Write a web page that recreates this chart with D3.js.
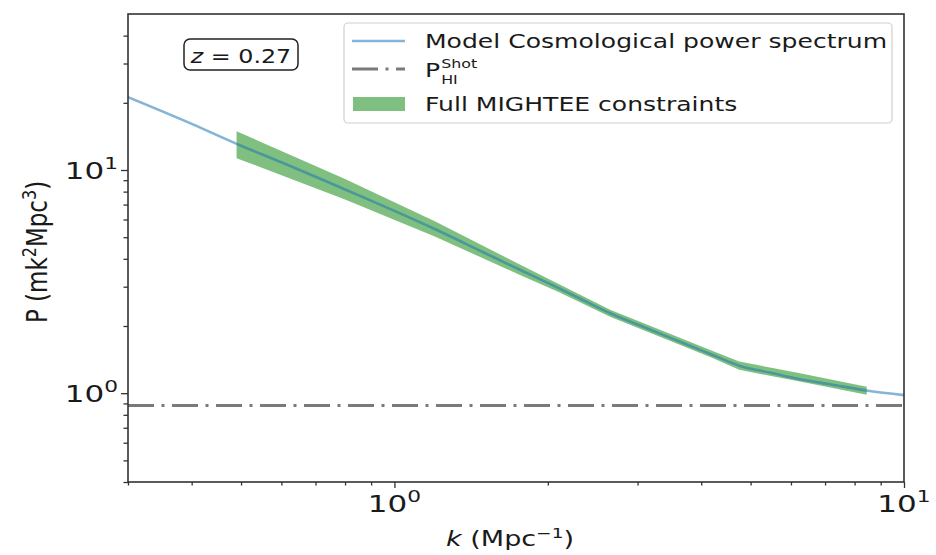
<!DOCTYPE html>
<html><head><meta charset="utf-8">
<script src="https://cdn.jsdelivr.net/npm/d3@7"></script>
<style>
body{margin:0;background:#fff}
text{font-family:"DejaVu Sans",sans-serif;fill:#1a1a1a}
</style>
</head><body>
<svg id="c" width="936" height="555"></svg>
<script>
// ---- data ----
const modelK = [0.3, 0.4, 0.5, 0.6, 0.7, 0.8, 1.0, 1.2, 1.5, 1.75, 2.0, 2.3, 2.65, 3.0, 3.3, 3.8, 4.2, 4.75, 5.5, 6.25, 7.2, 8.5, 10];
const modelP = [21.2, 16.1, 12.85, 10.83, 9.33, 8.18, 6.56, 5.44, 4.26, 3.60, 3.12, 2.67, 2.28, 2.03, 1.859, 1.632, 1.487, 1.328, 1.232, 1.155, 1.093, 1.025, 0.98];
const bandK    = [0.49, 0.8, 1.2, 1.75, 2.1, 2.65, 3.3, 4.2, 4.75, 6.25, 8.45];
const bandLow  = [11.3, 7.38, 5.04, 3.41, 2.84, 2.20, 1.80, 1.442, 1.272, 1.127, 0.983];
const bandHigh = [14.9, 9.12, 5.90, 3.80, 3.085, 2.364, 1.934, 1.55, 1.386, 1.229, 1.07];
const shotP = 0.88;
const xMajor = [1, 10];
const xMajorExp = ["0", "1"];
const yMajor = [1, 10];
const yMajorExp = ["0", "1"];
const xMinor = [0.3,0.4,0.5,0.6,0.7,0.8,0.9,2,3,4,5,6,7,8,9];
const yMinor = [0.4,0.5,0.6,0.7,0.8,0.9,2,3,4,5,6,7,8,9,20,30,40];
const legendLabels = ["Model Cosmological power spectrum", "P", "Full MIGHTEE constraints"];
const redshift = "0.27";

// ---- layout ----
const SX = 1.32;
const svg = d3.select("#c");
const L = 128, R = 904, T = 14, B = 482;
const x = d3.scaleLog().domain([0.3, 10]).range([L, R]);
const y = d3.scaleLog().domain([0.4, 50]).range([B, T]);

const lineBlue = "#1f77b4", bandGreen = "#008000", shotGrey = "#7a7a7a";
const dash = "26 7.5 3 7.5";

svg.append("defs").append("clipPath").attr("id","clip")
  .append("rect").attr("x",L).attr("y",T).attr("width",R-L).attr("height",B-T);
const plot = svg.append("g").attr("clip-path","url(#clip)");

// shot noise line
plot.append("line").attr("x1",L).attr("x2",R).attr("y1",y(shotP)).attr("y2",y(shotP))
  .attr("stroke",shotGrey).attr("stroke-width",3).attr("stroke-dasharray",dash);

// band
const band = bandK.map((k,i)=>({k, lo:bandLow[i], hi:bandHigh[i]}));
plot.append("path").datum(band)
  .attr("d", d3.area().x(d=>x(d.k)).y0(d=>y(d.lo)).y1(d=>y(d.hi)))
  .attr("fill",bandGreen).attr("fill-opacity",0.5);

// model line
const model = modelK.map((k,i)=>({k, p:modelP[i]}));
plot.append("path").datum(model)
  .attr("d", d3.line().x(d=>x(d.k)).y(d=>y(d.p)).curve(d3.curveMonotoneX))
  .attr("fill","none").attr("stroke",lineBlue).attr("stroke-opacity",0.55).attr("stroke-width",2.6);

// axes ticks
const axCol = "#333";
const gx = svg.append("g").attr("transform",`translate(0,${B})`);
gx.call(d3.axisBottom(x).tickValues(xMajor).tickSize(6).tickFormat(""));
const gx2 = svg.append("g").attr("transform",`translate(0,${B})`);
gx2.call(d3.axisBottom(x).tickValues(xMinor).tickSize(3.5).tickFormat(""));
const gy = svg.append("g").attr("transform",`translate(${L},0)`);
gy.call(d3.axisLeft(y).tickValues(yMajor).tickSize(7).tickFormat(""));
const gy2 = svg.append("g").attr("transform",`translate(${L},0)`);
gy2.call(d3.axisLeft(y).tickValues(yMinor).tickSize(4.5).tickFormat(""));
[gx,gx2,gy,gy2].forEach(g=>{
  g.select(".domain").remove();
  g.selectAll("line").attr("stroke",axCol).attr("stroke-width",1.3);
});
svg.append("rect").attr("x",L).attr("y",T).attr("width",R-L).attr("height",B-T)
  .attr("fill","none").attr("stroke",axCol).attr("stroke-width",1.6);

function stext(px, py, size, anchor, sx) {
  return svg.append("text")
    .attr("transform", `translate(${px},${py}) scale(${sx||SX},1)`)
    .attr("font-size", size).attr("text-anchor", anchor || "start");
}
function powLabel(t, exp, size) {
  t.append("tspan").text("10");
  t.append("tspan").attr("dy", -size*0.42).attr("font-size", size*0.7).text(exp);
}

// tick labels
xMajor.forEach((v,i)=>{
  const t = stext(x(v), 512, 23.5, "middle");
  powLabel(t, xMajorExp[i], 23.5);
});
yMajor.forEach((v,i)=>{
  const t = stext(L-10, y(v)+9, 23.5, "end");
  powLabel(t, yMajorExp[i], 23.5);
});

// x label
{
  const t = stext(510, 546, 20.5, "middle");
  t.append("tspan").attr("font-style","italic").text("k");
  t.append("tspan").text(" (Mpc");
  t.append("tspan").attr("dy",-8).attr("font-size",14).text("−1");
  t.append("tspan").attr("dy",8).text(")");
}
// y label
{
  const t = svg.append("text")
    .attr("transform", `translate(47,252) scale(1.2,1) rotate(-90)`)
    .attr("font-size", 23).attr("text-anchor","middle");
  t.append("tspan").text("P (mk");
  t.append("tspan").attr("dy",-9).attr("font-size",16).text("2");
  t.append("tspan").attr("dy",9).text("Mpc");
  t.append("tspan").attr("dy",-9).attr("font-size",16).text("3");
  t.append("tspan").attr("dy",9).text(")");
}

// redshift box
svg.append("rect").attr("x",184).attr("y",39).attr("width",114).attr("height",31)
  .attr("rx",6).attr("fill","#fff").attr("stroke","#222").attr("stroke-width",1.5);
{
  const t = stext(241, 63, 19.5, "middle", 1.22);
  t.append("tspan").attr("font-style","italic").text("z");
  t.append("tspan").text(" = " + redshift);
}

// legend
svg.append("rect").attr("x",344).attr("y",23).attr("width",548).attr("height",100)
  .attr("rx",4).attr("fill","#fff").attr("fill-opacity",0.85).attr("stroke","#d0d0d0").attr("stroke-width",1.2);
const lgY = [41, 69, 104];
const lgTextY = [48, 76.5, 110.5];
svg.append("line").attr("x1",352).attr("x2",405).attr("y1",lgY[0]).attr("y2",lgY[0])
  .attr("stroke",lineBlue).attr("stroke-opacity",0.55).attr("stroke-width",2.6);
svg.append("line").attr("x1",352).attr("x2",405).attr("y1",lgY[1]).attr("y2",lgY[1])
  .attr("stroke",shotGrey).attr("stroke-width",3).attr("stroke-dasharray",dash);
svg.append("rect").attr("x",353).attr("y",97).attr("width",52).attr("height",14)
  .attr("fill",bandGreen).attr("fill-opacity",0.5);
stext(425, lgTextY[0], 19).text(legendLabels[0]);
{
  const p = stext(425, lgTextY[1], 19).text(legendLabels[1]);
  const w = p.node().getComputedTextLength()*SX;
  stext(425+w+1, 68, 12).text("Shot");
  stext(425+w+1, 84, 12).text("HI");
}
stext(425, lgTextY[2], 19).text(legendLabels[2]);
</script>
</body></html>
